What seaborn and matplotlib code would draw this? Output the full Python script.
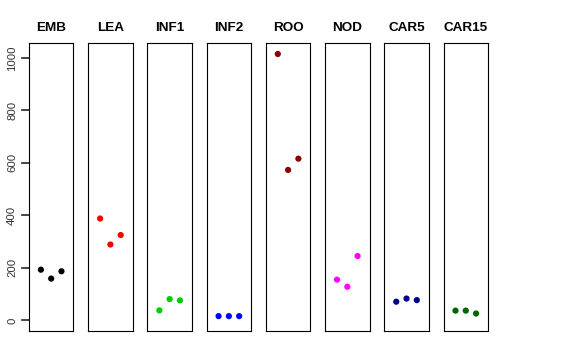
import numpy as np
import pandas as pd
import seaborn as sns
import matplotlib
matplotlib.use("Agg")
import matplotlib.pyplot as plt

# data
tissues = ["EMB", "LEA", "INF1", "INF2", "ROO", "NOD", "CAR5", "CAR15"]
colors = ["black", "red", "#00CD00", "blue", "#8B0000", "magenta", "#00008B", "#006400"]
replicate = [1, 2, 3]
emb = [193, 159, 187]
lea = [388, 289, 325]
inf1 = [38, 81, 76]
inf2 = [16, 16, 16]
roo = [1015, 573, 616]
nod = [155, 128, 245]
car5 = [71, 83, 77]
car15 = [37, 37, 26]
values = [emb, lea, inf1, inf2, roo, nod, car5, car15]
y_ticks = [0, 200, 400, 600, 800, 1000]

sns.set_style("ticks")
plt.rcParams.update({
    "font.family": ["Liberation Sans", "DejaVu Sans"],
    "axes.edgecolor": "black",
    "text.color": "black",
    "ytick.color": "#333333",
    "ytick.labelcolor": "#333333",
})

fig, axes = plt.subplots(1, 8, figsize=(5.76, 3.6), dpi=100)
fig.subplots_adjust(left=0.0503, right=0.8472, bottom=0.0806, top=0.8797, wspace=0.333)

ymax = max(max(v) for v in values)
pad = 0.04 * ymax

for i, (ax, name, col, vals) in enumerate(zip(axes, tissues, colors, values)):
    df = pd.DataFrame({"rep": replicate, "value": vals})
    sns.scatterplot(data=df, x="rep", y="value", color=col, s=20,
                    edgecolor="none", ax=ax)
    ax.set_xlim(-0.16, 4.16)
    ax.set_ylim(-pad, ymax + pad)
    ax.set_xticks([])
    ax.set_xlabel("")
    ax.set_ylabel("")
    ax.set_title(name, fontsize=9.7, fontweight="bold", color="black", pad=9)
    for sp in ax.spines.values():
        sp.set_visible(True)
        sp.set_color("black")
        sp.set_linewidth(0.8)
    if i == 0:
        ax.set_yticks(y_ticks)
        ax.set_yticklabels([str(t) for t in y_ticks], rotation=90, va="center",
                           fontsize=8.2)
        ax.tick_params(axis="y", left=True, length=5.5, width=1.1,
                       color="#333333", pad=3)
        # explicit tick marks (R-style axis) drawn just outside the box
        ax.hlines(y_ticks, -0.16, 0, transform=ax.get_yaxis_transform(),
                  clip_on=False, color="#444444", lw=1.1)
    else:
        ax.set_yticks([])

fig.savefig("out.png", dpi=100, facecolor="white")
